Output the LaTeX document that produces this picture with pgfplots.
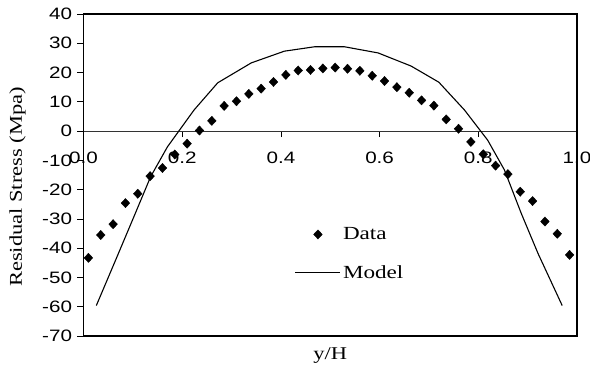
\documentclass[border=0pt]{standalone}
\usepackage{pgfplots}
\pgfplotsset{compat=1.18}
\usepackage{fontspec}
\setmainfont[FakeStretch=1.25]{Liberation Serif}
\newfontfamily\tickfont[FakeStretch=1.25]{Liberation Sans}

\begin{document}
\begin{tikzpicture}
\begin{axis}[
  scale only axis, width=493.5bp, height=322bp,
  xmin=0, xmax=1, ymin=-70, ymax=40,
  axis x line=middle, axis y line=left,
  axis line style={-, black, line width=1.4bp},
  x axis line style={-, line width=0.8bp, black!80},
  hide obscured x ticks=false,
  xtick={0,0.2,0.4,0.6,0.8,1.0},
  xticklabels={0.0,0.2,0.4,0.6,0.8,1.0},
  ytick={-70,-60,...,40},
  tick align=outside, major tick length=6bp,
  tick style={black, line width=0.8bp},
  ticklabel style={font=\tickfont\fontsize{16.5bp}{19bp}\selectfont},
  /pgf/number format/assume math mode=true,
  xticklabel style={yshift=-11bp},
  yticklabel style={xshift=-2bp},
  clip=false,
  xlabel={y/H}, ylabel={Residual Stress (Mpa)},
  label style={font=\fontsize{18bp}{20bp}\selectfont},
  xlabel style={at={(axis description cs:0.5,0)}, anchor=north, yshift=-11bp, inner sep=0pt},
  ylabel style={at={(axis description cs:-0.1337,0.4627)}, anchor=center},
  legend style={draw=none, fill=none, at={(axis description cs:0.428,0.256)}, anchor=west,
    font=\fontsize{18.5bp}{21bp}\selectfont, row sep=20bp, inner sep=0pt},
  legend cell align=left,
  legend image code/.code={\draw[mark repeat=2,mark phase=2,#1] plot coordinates {(0bp,0bp) (22.5bp,0bp) (45bp,0bp)};},
]
\addplot[only marks, mark=diamond*, mark size=4.6bp, mark options={xscale=1.25, fill=black, draw=black}] coordinates {
(0.010,-43.3) (0.035,-35.5) (0.060,-31.8) (0.085,-24.6) (0.110,-21.4)
(0.135,-15.4) (0.160,-12.6) (0.185,-8.0) (0.210,-4.3) (0.235,0.2)
(0.260,3.5) (0.285,8.6) (0.310,10.2) (0.335,12.7) (0.360,14.5)
(0.385,16.8) (0.410,19.2) (0.435,20.7) (0.460,20.9) (0.485,21.4)
(0.510,21.7) (0.535,21.3) (0.560,20.6) (0.585,18.9) (0.610,17.1)
(0.635,15.0) (0.660,13.1) (0.685,10.5) (0.710,8.7) (0.735,4.0)
(0.760,0.8) (0.785,-3.7) (0.810,-7.9) (0.835,-11.8) (0.860,-14.7)
(0.885,-20.7) (0.910,-23.9) (0.935,-30.9) (0.960,-35.1) (0.985,-42.3)
};
\addlegendentry{Data}
\addplot[black, line width=1.1bp, mark=none] coordinates {
(0.026,-59.6) (0.068,-42.9) (0.102,-29.3) (0.136,-15.6) (0.170,-5.4)
(0.224,7.2) (0.272,16.5) (0.340,23.3) (0.407,27.3) (0.468,28.8)
(0.529,28.8) (0.597,26.7) (0.664,22.2) (0.720,16.7) (0.772,7.2)
(0.819,-3.1) (0.853,-13.3) (0.887,-28.1) (0.921,-41.8) (0.970,-59.6)
};
\addlegendentry{Model}
\draw[black, line width=1.2bp] (rel axis cs:0,0) rectangle (rel axis cs:1,1);
\end{axis}
\pgfresetboundingbox
\path[use as bounding box] (-83.5bp,-31bp) rectangle (506.5bp,336bp);
\end{tikzpicture}
\end{document}
